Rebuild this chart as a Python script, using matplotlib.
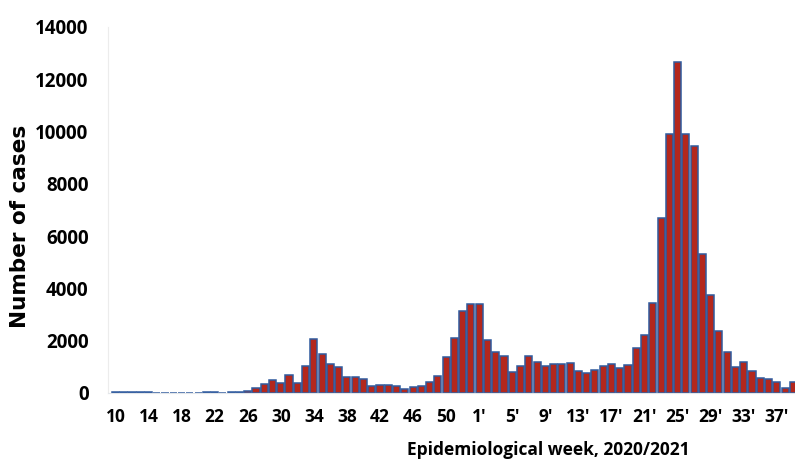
import matplotlib
matplotlib.use("Agg")
import matplotlib.pyplot as plt
import numpy as np

plt.rcParams['font.family'] = ['Open Sans', 'DejaVu Sans']

# Categories: epidemiological weeks 10..53 of 2020, then 1'..39' of 2021
weeks_2020 = [str(w) for w in range(10, 54)]
weeks_2021 = [f"{w}'" for w in range(1, 40)]
week_labels = weeks_2020 + weeks_2021

cases_2020 = [20, 30, 30, 25, 20, 10, 8, 5, 5, 5, 10, 25, 30, 15, 20, 40,
              90, 210, 330, 510, 380, 690, 370, 1030, 2070, 1480, 1100, 990,
              605, 600, 535, 250, 310, 310, 260, 145, 230, 275, 410, 655,
              1390, 2090, 3140, 3390]
cases_2021 = [3420, 2030, 1570, 1420, 800, 1045, 1420, 1190, 1035, 1120,
              1120, 1165, 860, 765, 890, 1045, 1095, 945, 1070, 1710, 2220,
              3460, 6680, 9910, 12650, 9910, 9450, 5300, 3750, 2390, 1555,
              1010, 1200, 855, 585, 523, 410, 180, 410]
cases = cases_2020 + cases_2021

y_ticks = [0, 2000, 4000, 6000, 8000, 10000, 12000, 14000]

fig = plt.figure(figsize=(7.95, 4.70), dpi=100)
ax = fig.add_axes([108/795, 1-393/470, 1-108/795, (393-27)/470])

x = np.arange(len(cases))
ax.bar(x, cases, width=0.86, color='#b3271d', edgecolor='#2f5a9e', linewidth=1.1)

ax.set_xlim(-0.9, 82.2)
ax.set_ylim(0, 14000)
ax.set_yticks(y_ticks)
ax.set_yticklabels([str(v) for v in y_ticks], fontsize=13.5, fontweight='bold')
ax.set_xticks(x[::4])
ax.set_xticklabels(week_labels[::4], fontsize=12.5, fontweight='bold')
ax.tick_params(axis='both', length=0)
ax.tick_params(axis='x', pad=11)
ax.tick_params(axis='y', pad=14)

for s in ['top', 'right']:
    ax.spines[s].set_visible(False)
ax.spines['left'].set_color('#ececec')
ax.spines['bottom'].set_color('#e2e6ea')

fig.text(548/795, 1-455/470, 'Epidemiological week, 2020/2021', ha='center', va='baseline',
         fontsize=12.5, fontweight='bold')
fig.text(20/795, 1-226/470, 'Number of cases', ha='center', va='center', rotation=90,
         fontsize=15.5, fontweight='bold', family='DejaVu Sans')

fig.savefig('out.png', dpi=100)
